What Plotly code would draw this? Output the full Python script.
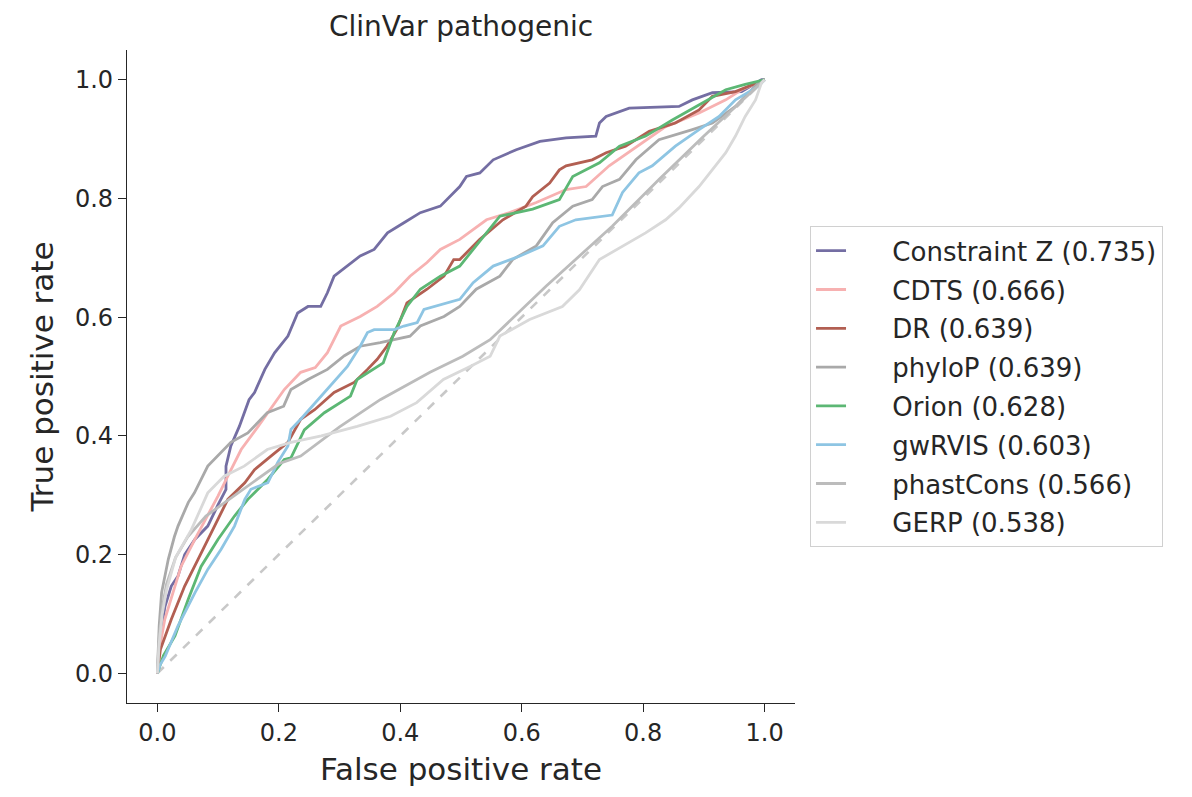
import plotly.graph_objects as go

title = "ClinVar pathogenic"
x_label = "False positive rate"
y_label = "True positive rate"
tick_vals = [0.0, 0.2, 0.4, 0.6, 0.8, 1.0]
tick_text = ["0.0", "0.2", "0.4", "0.6", "0.8", "1.0"]

names = ["Constraint Z", "CDTS", "DR", "phyloP", "Orion", "gwRVIS", "phastCons", "GERP"]
aucs = [0.735, 0.666, 0.639, 0.639, 0.628, 0.603, 0.566, 0.538]
colors = ["#746ea3", "#f7b1b1", "#b25f52", "#a9a9a9", "#5cb774", "#8ec5e3", "#bcbcbc", "#d9d9d9"]

constraintz_fpr = [0, 0.004, 0.0126, 0.023, 0.034, 0.045, 0.062, 0.083, 0.099, 0.113, 0.113, 0.121, 0.135,
                   0.151, 0.16, 0.177, 0.193, 0.215, 0.231, 0.248, 0.269, 0.28, 0.291, 0.313, 0.334, 0.357,
                   0.379, 0.406, 0.433, 0.466, 0.482, 0.498, 0.509, 0.531, 0.553, 0.591, 0.63, 0.673, 0.722,
                   0.728, 0.739, 0.777, 0.859, 0.881, 0.914, 0.962, 0.995, 1.0]
constraintz_tpr = [0, 0.06, 0.113, 0.147, 0.164, 0.2, 0.226, 0.248, 0.282, 0.31, 0.349, 0.383, 0.416,
                   0.461, 0.473, 0.512, 0.54, 0.568, 0.607, 0.618, 0.618, 0.641, 0.669, 0.686, 0.703, 0.714,
                   0.742, 0.759, 0.776, 0.787, 0.803, 0.82, 0.837, 0.843, 0.865, 0.882, 0.896, 0.902, 0.905,
                   0.927, 0.938, 0.952, 0.955, 0.966, 0.978, 0.98, 1.0, 1.0]

cdts_fpr = [0, 0.005, 0.012, 0.023, 0.039, 0.062, 0.083, 0.1, 0.116, 0.138, 0.166, 0.182, 0.209, 0.236,
            0.26, 0.28, 0.302, 0.334, 0.362, 0.39, 0.416, 0.444, 0.466, 0.498, 0.542, 0.58, 0.624, 0.673,
            0.706, 0.744, 0.782, 0.837, 0.892, 0.936, 0.962, 1.0]
cdts_tpr = [0, 0.05, 0.09, 0.125, 0.18, 0.226, 0.265, 0.299, 0.332, 0.377, 0.416, 0.439, 0.478, 0.507,
            0.515, 0.54, 0.585, 0.601, 0.618, 0.641, 0.669, 0.692, 0.714, 0.731, 0.764, 0.776, 0.793, 0.815,
            0.82, 0.855, 0.882, 0.921, 0.944, 0.966, 0.983, 1.0]

dr_fpr = [0, 0.005, 0.023, 0.045, 0.067, 0.089, 0.116, 0.144, 0.16, 0.187, 0.215, 0.236, 0.259, 0.291,
          0.324, 0.346, 0.362, 0.378, 0.394, 0.411, 0.444, 0.472, 0.488, 0.498, 0.531, 0.569, 0.607, 0.618,
          0.646, 0.662, 0.673, 0.716, 0.739, 0.771, 0.81, 0.853, 0.892, 0.914, 0.952, 1.0]
dr_tpr = [0, 0.04, 0.091, 0.147, 0.192, 0.237, 0.293, 0.321, 0.343, 0.366, 0.389, 0.428, 0.444, 0.473,
          0.49, 0.512, 0.529, 0.551, 0.579, 0.624, 0.647, 0.669, 0.697, 0.697, 0.731, 0.764, 0.787, 0.803,
          0.826, 0.848, 0.855, 0.865, 0.877, 0.888, 0.913, 0.927, 0.949, 0.972, 0.98, 1.0]

phylop_fpr = [0, 0.003, 0.007, 0.018, 0.028, 0.034, 0.051, 0.061, 0.083, 0.105, 0.121, 0.149, 0.181, 0.208,
              0.22, 0.248, 0.28, 0.308, 0.334, 0.367, 0.416, 0.433, 0.472, 0.498, 0.525, 0.564, 0.585, 0.624,
              0.651, 0.684, 0.716, 0.733, 0.761, 0.788, 0.826, 0.881, 0.914, 0.952, 0.99, 1.0]
phylop_tpr = [0, 0.08, 0.136, 0.192, 0.23, 0.248, 0.288, 0.304, 0.349, 0.372, 0.389, 0.405, 0.439, 0.45,
              0.478, 0.495, 0.512, 0.535, 0.551, 0.557, 0.568, 0.585, 0.601, 0.618, 0.647, 0.669, 0.697, 0.72,
              0.759, 0.787, 0.798, 0.82, 0.832, 0.865, 0.899, 0.916, 0.927, 0.955, 0.995, 1.0]

orion_fpr = [0, 0.01, 0.029, 0.051, 0.072, 0.1, 0.127, 0.149, 0.182, 0.209, 0.22, 0.242, 0.275, 0.318,
             0.329, 0.372, 0.39, 0.411, 0.433, 0.466, 0.498, 0.525, 0.564, 0.618, 0.662, 0.684, 0.728, 0.761,
             0.804, 0.848, 0.897, 0.936, 0.968, 1.0]
orion_tpr = [0, 0.03, 0.063, 0.125, 0.18, 0.226, 0.265, 0.293, 0.327, 0.36, 0.363, 0.41, 0.439, 0.467,
             0.495, 0.523, 0.574, 0.618, 0.647, 0.669, 0.686, 0.72, 0.77, 0.782, 0.798, 0.837, 0.86, 0.888,
             0.905, 0.932, 0.961, 0.983, 0.992, 1.0]

gwrvis_fpr = [0, 0.005, 0.013, 0.034, 0.062, 0.083, 0.105, 0.127, 0.144, 0.154, 0.182, 0.198, 0.215, 0.22,
              0.236, 0.264, 0.285, 0.313, 0.334, 0.346, 0.357, 0.39, 0.406, 0.428, 0.439, 0.477, 0.498, 0.52,
              0.553, 0.597, 0.635, 0.662, 0.689, 0.749, 0.766, 0.793, 0.815, 0.853, 0.892, 0.925, 0.952, 0.99, 1.0]
gwrvis_tpr = [0, 0.015, 0.029, 0.08, 0.136, 0.175, 0.209, 0.248, 0.293, 0.31, 0.321, 0.355, 0.383, 0.411,
              0.428, 0.461, 0.484, 0.517, 0.551, 0.574, 0.579, 0.579, 0.585, 0.591, 0.613, 0.624, 0.63, 0.658,
              0.686, 0.703, 0.72, 0.753, 0.764, 0.772, 0.81, 0.843, 0.855, 0.888, 0.916, 0.938, 0.966, 0.989, 1.0]

phastcons_fpr = [0, 0.003, 0.008, 0.015, 0.03, 0.05, 0.08, 0.127, 0.2, 0.236, 0.3, 0.367, 0.449, 0.503,
                 0.548, 0.64, 0.749, 0.826, 0.9, 0.96, 1.0]
phastcons_tpr = [0, 0.06, 0.11, 0.15, 0.195, 0.23, 0.265, 0.3, 0.353, 0.366, 0.415, 0.461, 0.507, 0.534,
                 0.562, 0.652, 0.753, 0.832, 0.905, 0.962, 1.0]

gerp_fpr = [0, 0.003, 0.008, 0.015, 0.03, 0.056, 0.083, 0.11, 0.143, 0.181, 0.22, 0.27, 0.329, 0.384,
            0.427, 0.471, 0.515, 0.548, 0.564, 0.613, 0.667, 0.695, 0.728, 0.766, 0.804, 0.837, 0.859, 0.892,
            0.913, 0.936, 0.952, 0.968, 0.985, 0.995, 1.0]
gerp_tpr = [0, 0.05, 0.1, 0.14, 0.195, 0.242, 0.304, 0.332, 0.349, 0.377, 0.389, 0.4, 0.416, 0.433,
            0.456, 0.495, 0.517, 0.534, 0.568, 0.596, 0.618, 0.646, 0.697, 0.72, 0.742, 0.764, 0.784, 0.82,
            0.848, 0.877, 0.905, 0.938, 0.966, 0.995, 1.0]

chance_line = [0.0, 1.0]

series = [
    (constraintz_fpr, constraintz_tpr),
    (cdts_fpr, cdts_tpr),
    (dr_fpr, dr_tpr),
    (phylop_fpr, phylop_tpr),
    (orion_fpr, orion_tpr),
    (gwrvis_fpr, gwrvis_tpr),
    (phastcons_fpr, phastcons_tpr),
    (gerp_fpr, gerp_tpr),
]

FONT = "DejaVu Sans"
TXT = "#262626"
W, H = 1192, 797
OFF = 8  # page body margin
PAD = "\u00a0" * 5  # widen gap between legend sample line and text

fig = go.Figure()
fig.add_trace(go.Scatter(x=chance_line, y=chance_line, mode="lines",
                         line=dict(color="#c8c8c8", width=2.6, dash="dash"),
                         showlegend=False, hoverinfo="skip"))
for i, ((fx, ty), name, auc, col) in enumerate(zip(series, names, aucs, colors)):
    fig.add_trace(go.Scatter(x=fx, y=ty, mode="lines",
                             name=f"{PAD}{name} ({auc:.3f})", legendgroup=f"g{i}",
                             line=dict(color=col, width=2.8)))

axis_common = dict(
    range=[-0.05, 1.05], tickvals=tick_vals, ticktext=tick_text,
    showgrid=False, zeroline=False, showline=True, linecolor=TXT, linewidth=1.3,
    ticks="outside", ticklen=8, tickwidth=1.3, tickcolor=TXT,
    tickfont=dict(family=FONT, size=24, color=TXT), mirror=False,
)

fig.update_layout(
    width=W, height=H,
    paper_bgcolor="white", plot_bgcolor="white",
    margin=dict(l=127 - OFF, r=W - (795 - OFF), t=50 - OFF, b=H - (703 - OFF)),
    font=dict(family=FONT, color=TXT),
    title=dict(text=title, x=(461 - OFF) / W, xanchor="center", y=1 - 18 / H,
               yanchor="middle", pad=dict(t=0, b=0),
               font=dict(family=FONT, size=28, color=TXT)),
    xaxis=dict(axis_common, title=dict(text=x_label, standoff=12,
                                       font=dict(family=FONT, size=31, color=TXT))),
    yaxis=dict(axis_common, title=dict(text=y_label, standoff=12,
                                       font=dict(family=FONT, size=31, color=TXT))),
    legend=dict(x=1.0225, y=0.73, xanchor="left", yanchor="top",
                bordercolor="#d0d0d0", borderwidth=1, bgcolor="white",
                font=dict(family=FONT, size=26, color=TXT),
                tracegroupgap=2, traceorder="grouped"),
)

fig.write_html("out.html")
